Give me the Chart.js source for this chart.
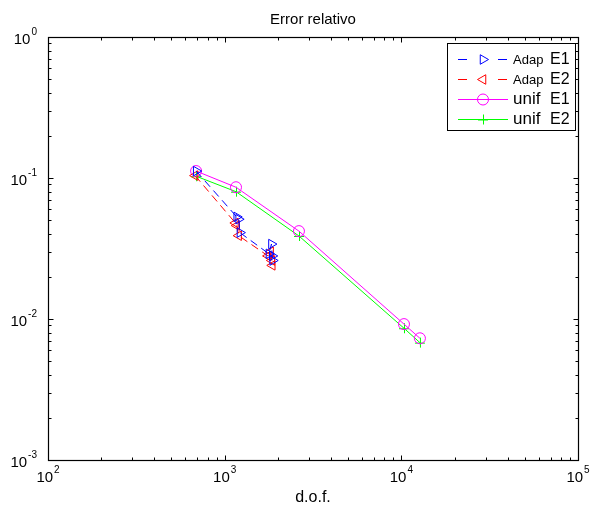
<!DOCTYPE html>
<html>
<head>
<meta charset="utf-8">
<script src="https://cdn.jsdelivr.net/npm/chart.js@4/dist/chart.umd.min.js"></script>
<style>
  html, body { margin: 0; padding: 0; background: #fff; }
  #wrap { width: 590px; height: 507px; }
</style>
</head>
<body>
<div id="wrap"><canvas id="c" width="590" height="507"></canvas></div>
<script>
// Relative error vs. degrees of freedom: adaptive and uniform refinement
const adapE1Dof = [690, 1170, 1200, 1220, 1780, 1840, 1860, 1870];
const adapE1Err = [0.112, 0.053, 0.051, 0.041, 0.029, 0.034, 0.028, 0.026];
const adapE2Dof = [680, 1150, 1170, 1200, 1760, 1820, 1850, 1860];
const adapE2Err = [0.104, 0.048, 0.046, 0.039, 0.028, 0.030, 0.026, 0.024];
const unifDof   = [689, 1159, 2633, 10350, 12740];
const unifE1Err = [0.112, 0.086, 0.042, 0.0092, 0.0073];
const unifE2Err = [0.103, 0.080, 0.0388, 0.0086, 0.0068];

const xDecades = [2, 3, 4, 5];
const yDecades = [-3, -2, -1, 0];
const legendLabels = [["Adap", "E1"], ["Adap", "E2"], ["unif", "E1"], ["unif", "E2"]];

const FONT = '"Liberation Sans", Arial, Helvetica, sans-serif';

function pts(xs, ys) { return xs.map((x, i) => ({ x: x, y: ys[i] })); }

// MATLAB-style plus marker
function plusMarker(size, color) {
  const c = document.createElement('canvas');
  c.width = size * 2 + 2; c.height = size * 2 + 2;
  const g = c.getContext('2d');
  g.strokeStyle = color; g.lineWidth = 1;
  const m = size + 1;
  g.beginPath();
  g.moveTo(m - size, m + 0.5); g.lineTo(m + size, m + 0.5);
  g.moveTo(m + 0.5, m - size); g.lineTo(m + 0.5, m + size);
  g.stroke();
  return c;
}

const datasets = [
  { label: 'Adap E1', data: pts(adapE1Dof, adapE1Err), borderColor: '#0000ff', borderWidth: 1,
    borderDash: [8, 5], pointStyle: 'triangle', rotation: 90, pointRadius: 5.5,
    pointBorderColor: '#0000ff', pointBackgroundColor: 'rgba(0,0,0,0)', pointBorderWidth: 1 },
  { label: 'Adap E2', data: pts(adapE2Dof, adapE2Err), borderColor: '#ff0000', borderWidth: 1,
    borderDash: [8, 5], pointStyle: 'triangle', rotation: -90, pointRadius: 5.5,
    pointBorderColor: '#ff0000', pointBackgroundColor: 'rgba(0,0,0,0)', pointBorderWidth: 1 },
  { label: 'unif E1', data: pts(unifDof, unifE1Err), borderColor: '#ff00ff', borderWidth: 1,
    pointStyle: 'circle', pointRadius: 5.5,
    pointBorderColor: '#ff00ff', pointBackgroundColor: 'rgba(0,0,0,0)', pointBorderWidth: 1 },
  { label: 'unif E2', data: pts(unifDof, unifE2Err), borderColor: '#00ff00', borderWidth: 1,
    pointStyle: plusMarker(5, '#00ff00'), pointRadius: 5,
    pointBorderColor: '#00ff00', pointBackgroundColor: '#00ff00', pointBorderWidth: 1 }
];

function drawPow(ctx, exp, x, y, align) {
  const base = '10', sup = String(exp);
  ctx.font = '15px ' + FONT;
  const wb = ctx.measureText(base).width;
  ctx.font = '10px ' + FONT;
  const ws = ctx.measureText(sup).width;
  const total = wb + ws + 1;
  let left = align === 'right' ? x - total : x - total / 2;
  ctx.fillStyle = '#000';
  ctx.textAlign = 'left';
  ctx.textBaseline = 'alphabetic';
  ctx.font = '15px ' + FONT;
  ctx.fillText(base, left, y);
  ctx.font = '10px ' + FONT;
  ctx.fillText(sup, left + wb + 1, y - 9);
}

// Box, inward ticks on all four sides, power-of-ten labels and titles
const axesPlugin = {
  id: 'axesBox',
  afterDatasetsDraw(chart) {
    const ctx = chart.ctx, a = chart.chartArea;
    const xs = chart.scales.x, ys = chart.scales.y;
    ctx.save();
    ctx.strokeStyle = '#000';
    ctx.lineWidth = 1;
    ctx.beginPath();
    const L = Math.round(a.left) + 0.5, R = Math.round(a.right) + 0.5;
    const T = Math.round(a.top) + 0.5, B = Math.round(a.bottom) + 0.5;
    for (let d = xDecades[0]; d <= xDecades[xDecades.length - 1]; d++) {
      for (let m = 1; m <= 9; m++) {
        if (d === xDecades[xDecades.length - 1] && m > 1) break;
        const v = m * Math.pow(10, d);
        const px = Math.round(xs.getPixelForValue(v)) + 0.5;
        const len = m === 1 ? 5 : 3;
        ctx.moveTo(px, B); ctx.lineTo(px, B - len);
        ctx.moveTo(px, T); ctx.lineTo(px, T + len);
      }
    }
    for (let d = yDecades[0]; d <= yDecades[yDecades.length - 1]; d++) {
      for (let m = 1; m <= 9; m++) {
        if (d === yDecades[yDecades.length - 1] && m > 1) break;
        const v = m * Math.pow(10, d);
        const py = Math.round(ys.getPixelForValue(v)) + 0.5;
        const len = m === 1 ? 5 : 3;
        ctx.moveTo(L, py); ctx.lineTo(L + len, py);
        ctx.moveTo(R, py); ctx.lineTo(R - len, py);
      }
    }
    ctx.stroke();
    ctx.lineWidth = 1.2;
    ctx.strokeRect(L, T, R - L, B - T);

    xDecades.forEach(d => drawPow(ctx, d, xs.getPixelForValue(Math.pow(10, d)), a.bottom + 22, 'center'));
    yDecades.forEach(d => drawPow(ctx, d, a.left - 11, ys.getPixelForValue(Math.pow(10, d)) + 7, 'right'));

    ctx.fillStyle = '#000';
    ctx.textAlign = 'center';
    ctx.textBaseline = 'alphabetic';
    ctx.font = '16px ' + FONT;
    ctx.fillText('d.o.f.', (a.left + a.right) / 2, a.bottom + 42);
    ctx.font = '15px ' + FONT;
    ctx.fillText('Error relativo', (a.left + a.right) / 2, a.top - 13);
    ctx.restore();
  },
  afterDraw(chart) {
    // legend box in the upper-right corner
    const ctx = chart.ctx;
    const bx = 447.5, by = 43.5, bw = 128, bh = 87;
    ctx.save();
    ctx.fillStyle = '#fff';
    ctx.fillRect(bx, by, bw, bh);
    ctx.strokeStyle = '#000';
    ctx.lineWidth = 1;
    ctx.strokeRect(bx, by, bw, bh);
    const rows = [59, 79, 99, 119];
    datasets.forEach((ds, i) => {
      const y = rows[i] + 0.5;
      ctx.strokeStyle = ds.borderColor;
      ctx.lineWidth = 1;
      ctx.beginPath();
      if (ds.borderDash) {
        ctx.moveTo(458, y); ctx.lineTo(467, y);
        ctx.moveTo(498, y); ctx.lineTo(507, y);
      } else {
        ctx.moveTo(458, y); ctx.lineTo(508, y);
      }
      ctx.stroke();
      ctx.strokeStyle = ds.pointBorderColor;
      ctx.fillStyle = 'rgba(0,0,0,0)';
      Chart.helpers.drawPoint(ctx, {
        pointStyle: ds.pointStyle, rotation: ds.rotation || 0, radius: ds.pointRadius, borderWidth: 1
      }, 483, y);
      const lab = legendLabels[i];
      ctx.fillStyle = '#000';
      ctx.textAlign = 'left';
      ctx.textBaseline = 'middle';
      if (lab[0] === 'Adap') {
        ctx.font = '13px ' + FONT;
        ctx.fillText(lab[0], 513, y + 1);
      } else {
        ctx.font = '17px ' + FONT;
        ctx.fillText(lab[0], 513, y);
      }
      ctx.font = '16px ' + FONT;
      ctx.fillText(lab[1], 550, y);
    });
    ctx.restore();
  }
};

new Chart(document.getElementById('c'), {
  type: 'line',
  data: { datasets: datasets },
  options: {
    responsive: false,
    animation: false,
    devicePixelRatio: 1,
    layout: { padding: { left: 48, top: 37, right: 12, bottom: 47 } },
    plugins: { legend: { display: false }, tooltip: { enabled: false }, title: { display: false } },
    elements: { line: { tension: 0 } },
    scales: {
      x: { type: 'logarithmic', min: 100, max: 100000, display: false },
      y: { type: 'logarithmic', min: 0.001, max: 1, display: false }
    }
  },
  plugins: [axesPlugin]
});
</script>
</body>
</html>
